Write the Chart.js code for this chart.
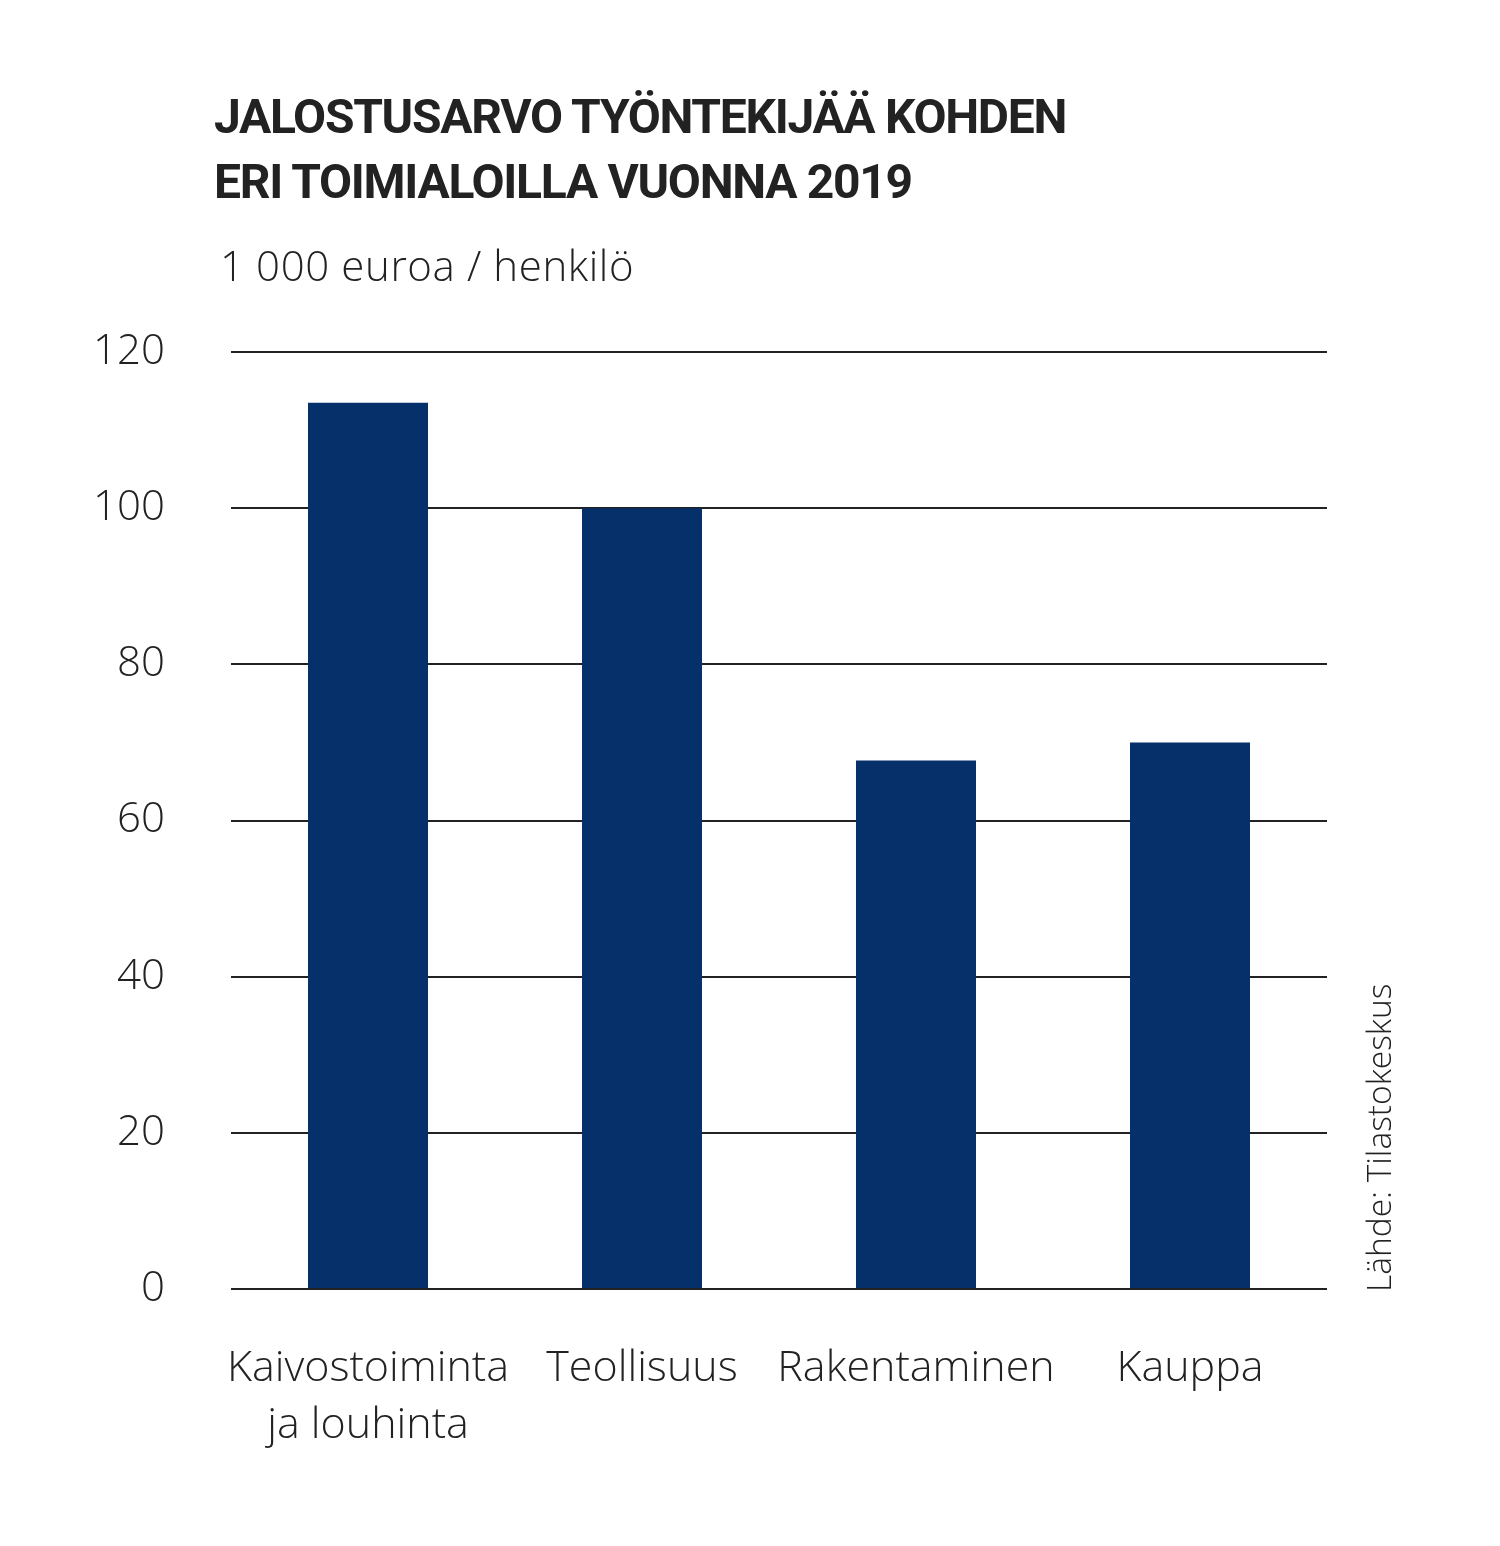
<!DOCTYPE html>
<html>
<head>
<meta charset="utf-8">
<script src="https://cdn.jsdelivr.net/npm/chart.js@4/dist/chart.umd.min.js"></script>
<style>
    html, body { margin: 0; padding: 0; background: #fff; }
    #wrap { position: relative; width: 1500px; height: 1546px; overflow: hidden; }
    #chart { position: absolute; left: 0; top: 0; }
    .title {
        position: absolute; left: 214px; top: 84px; margin: 0;
        font-family: "Roboto", sans-serif; font-weight: 700;
        font-size: 48px; line-height: 65px; color: #222; letter-spacing: -1.3px;
    }
    .sub {
        position: absolute; left: 220px; top: 236px;
        font-family: "Open Sans", sans-serif; font-weight: 300;
        font-size: 42px; color: #222; letter-spacing: 0.6px;
    }
    .source {
        position: absolute; left: 1361px; top: 1292px;
        transform-origin: 0 0; transform: rotate(-90deg);
        font-family: "Open Sans", sans-serif; font-weight: 300;
        font-size: 33.5px; color: #222; white-space: nowrap; line-height: 34px;
    }
</style>
</head>
<body>
<div id="wrap">
    <canvas id="chart" width="1500" height="1546"></canvas>
    <h1 class="title">JALOSTUSARVO TYÖNTEKIJÄÄ KOHDEN<br>ERI TOIMIALOILLA VUONNA 2019</h1>
    <div class="sub">1 000 euroa / henkilö</div>
    <div class="source">Lähde: Tilastokeskus</div>
</div>
<script>
'use strict';

var categories = [
    ['Kaivostoiminta', 'ja louhinta'],
    'Teollisuus',
    'Rakentaminen',
    'Kauppa'
];
var values = [113.5, 100, 67.7, 70];
var yTicks = [0, 20, 40, 60, 80, 100, 120];

var ink = '#222222';
var barColor = '#06306a';

var ctx = document.getElementById('chart').getContext('2d');

new Chart(ctx, {
    type: 'bar',
    data: {
        labels: categories,
        datasets: [
            {
                data: values,
                backgroundColor: barColor,
                borderWidth: 0,
                barPercentage: 0.438,
                categoryPercentage: 1
            }
        ]
    },
    options: {
        responsive: false,
        animation: false,
        devicePixelRatio: 1,
        layout: {
            padding: { top: 352, right: 173, bottom: 57, left: 0 }
        },
        plugins: {
            legend: { display: false },
            tooltip: { enabled: false }
        },
        scales: {
            x: {
                grid: { display: false, drawTicks: false },
                border: { display: false },
                ticks: {
                    color: ink,
                    padding: 51,
                    autoSkip: false,
                    maxRotation: 0,
                    minRotation: 0,
                    font: { family: 'Open Sans', weight: 300, size: 43, lineHeight: 1.33 }
                },
                afterFit: function (scale) {
                    scale.height = 200;
                }
            },
            y: {
                min: 0,
                max: 120,
                afterBuildTicks: function (scale) {
                    scale.ticks = yTicks.map(function (v) { return { value: v }; });
                },
                grid: { color: ink, lineWidth: 2, drawTicks: false },
                border: { display: false },
                ticks: {
                    color: ink,
                    padding: 66,
                    font: { family: 'Open Sans', weight: 300, size: 42 }
                },
                afterFit: function (scale) {
                    scale.width = 231;
                }
            }
        }
    }
});
</script>
</body>
</html>
